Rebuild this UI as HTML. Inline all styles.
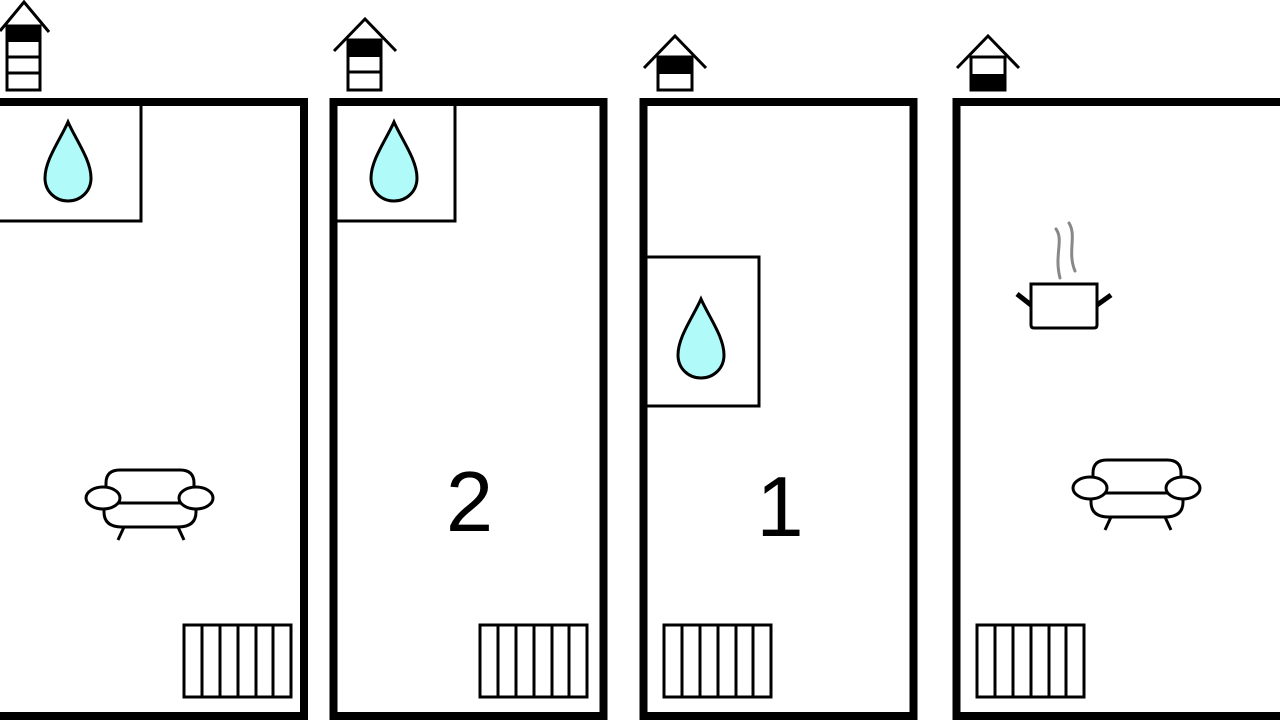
<!DOCTYPE html>
<html><head><meta charset="utf-8"><style>html,body{margin:0;padding:0;background:#fff;width:1280px;height:720px;overflow:hidden}</style></head>
<body>
<svg width="1280" height="720" viewBox="0 0 1280 720" xmlns="http://www.w3.org/2000/svg">
<defs>
<g id="drop"><path d="M0,0 C-8,18 -23,38 -23,56 C-23,70 -12,79 0,79 C12,79 23,70 23,56 C23,38 8,18 0,0 Z" fill="#b0fafa" stroke="#000" stroke-width="3"/></g>
<g id="sofa" fill="#fff" stroke="#000" stroke-width="3">
<line x1="124" y1="527" x2="118" y2="540"/><line x1="178" y1="527" x2="184" y2="540"/>
<path d="M106,490 L106,483 Q106,470 120,470 L180,470 Q194,470 194,483 L194,490" fill="none"/>
<path d="M104,505 L104,512 Q104,527 122,527 L178,527 Q196,527 196,512 L196,505" fill="none"/>
<line x1="115" y1="503" x2="185" y2="503"/>
<ellipse cx="103" cy="498" rx="17" ry="11"/><ellipse cx="196" cy="498" rx="17" ry="11"/>
</g>
<g id="rad" fill="none" stroke="#000" stroke-width="3">
<rect x="0" y="0" width="107" height="72"/>
<line x1="18" y1="0" x2="18" y2="72"/><line x1="36" y1="0" x2="36" y2="72"/><line x1="54" y1="0" x2="54" y2="72"/><line x1="72" y1="0" x2="72" y2="72"/><line x1="89" y1="0" x2="89" y2="72"/>
</g>
</defs>
<g fill="none" stroke="#000" stroke-width="8">
<rect x="-50" y="102" width="354" height="614"/>
<rect x="333.5" y="102" width="270" height="614"/>
<rect x="643.5" y="102" width="270" height="614"/>
<rect x="956.5" y="102" width="400" height="614"/>
</g>
<g fill="none" stroke="#000" stroke-width="3">
<rect x="-10" y="104" width="151" height="117"/>
<rect x="336" y="104" width="119" height="117"/>
<rect x="646" y="257" width="113" height="149"/>
</g>
<use href="#drop" x="68" y="122"/>
<use href="#drop" x="394" y="122"/>
<use href="#drop" x="701" y="299"/>
<g fill="none" stroke="#000" stroke-width="3">
<polyline points="0,31 24,2 49,32"/>
<rect x="7" y="26" width="33" height="64"/>
<line x1="7" y1="57" x2="40" y2="57"/><line x1="7" y1="73" x2="40" y2="73"/>
<polyline points="334,51 365,19 396,51"/>
<rect x="348" y="40" width="33" height="50"/>
<line x1="348" y1="72" x2="381" y2="72"/>
<polyline points="644,68 675,36 706,68"/>
<rect x="658" y="57" width="34" height="33"/>
<polyline points="957,68 988,36 1019,68"/>
<rect x="971" y="57" width="34" height="33"/>
</g>
<rect x="6" y="25" width="35" height="17" fill="#000"/>
<rect x="347" y="39" width="35" height="18" fill="#000"/>
<rect x="657" y="56" width="36" height="18" fill="#000"/>
<rect x="970" y="74" width="36" height="17" fill="#000"/>
<use href="#sofa"/>
<use href="#sofa" x="987" y="-10"/>
<use href="#rad" x="184" y="625"/>
<use href="#rad" x="480" y="625"/>
<use href="#rad" x="664" y="625"/>
<use href="#rad" x="977" y="625"/>
<g fill="none" stroke="#888" stroke-width="3" stroke-linecap="round">
<path d="M1056,229 C1064,240 1054,255 1060,278"/>
<path d="M1069,223 C1077,236 1067,252 1075,271"/>
</g>
<path d="M1031,284 L1097,284 L1097,325 Q1097,328 1094,328 L1034,328 Q1031,328 1031,325 Z" fill="#fff" stroke="#000" stroke-width="3"/>
<line x1="1017" y1="294" x2="1031" y2="305" stroke="#000" stroke-width="5"/>
<line x1="1097" y1="305" x2="1111" y2="295" stroke="#000" stroke-width="5"/>
<text x="469.5" y="531" font-family="Liberation Sans, sans-serif" font-size="85" text-anchor="middle">2</text>
<text x="780" y="536" font-family="Liberation Sans, sans-serif" font-size="85" text-anchor="middle">1</text>
</svg>
</body></html>
